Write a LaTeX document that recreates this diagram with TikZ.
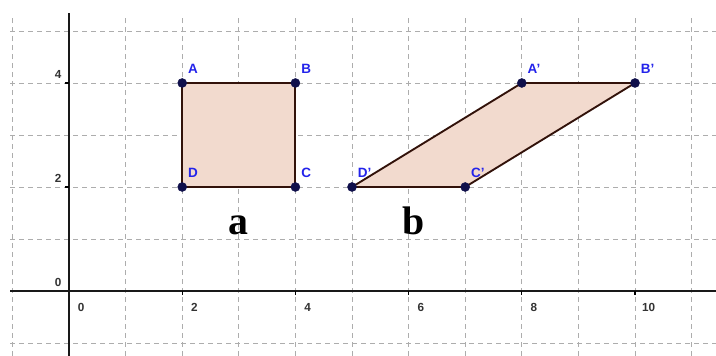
\documentclass[tikz,border=0pt]{standalone}
\usepackage{fontspec}
\setmainfont{Liberation Serif}
\setsansfont{Liberation Sans}
\begin{document}
\begin{tikzpicture}[x=1.698cm,y=1.56cm,
  gridline/.style={draw=black!32, line width=0.8pt, dash pattern=on 0.15cm off 0.12cm},
  axisline/.style={draw=black!90, line width=1.6pt},
  tickmark/.style={draw=black, line width=1pt},
  axnum/.style={font=\sffamily\bfseries\fontsize{10}{11}\selectfont, text=black!80, inner sep=0pt},
  pt/.style={circle, fill=ptcol, draw=ptcol, minimum size=0.27cm, inner sep=0pt},
  ptlab/.style={font=\sffamily\bfseries\fontsize{11.5}{12}\selectfont, text=labcol, inner sep=0pt, anchor=south west},
  poly/.style={fill=polyfill, draw=edgecol, line width=1.6pt, line join=round},
  biglab/.style={font=\bfseries\fontsize{34}{36}\selectfont, inner sep=0pt, anchor=base}]
\definecolor{ptcol}{RGB}{15,15,75}
\definecolor{labcol}{RGB}{35,35,235}
\definecolor{polyfill}{RGB}{242,218,206}
\definecolor{edgecol}{RGB}{50,18,10}
\useasboundingbox (-1.219,-1.25) rectangle (11.431,5.596);
\fill[white] (-1.219,-1.25) rectangle (11.431,5.596);
% grid
\foreach \i in {-1,...,11} \draw[gridline] (\i,-1.25) -- (\i,5.31);
\foreach \j in {-1,...,5} \draw[gridline] (-1.04,\j) -- (11.431,\j);
% axes
\draw[axisline] (-1.04,0) -- (11.431,0);
\draw[axisline] (0,-1.25) -- (0,5.35);
% ticks
\foreach \i in {2,4,6,8,10} \draw[tickmark] (\i,0) -- (\i,-0.07);
\foreach \j in {2,4} \draw[tickmark] (0,\j) -- (-0.07,\j);
% axis numbers
\foreach \i in {0,2,4,6,8} \node[axnum] (xn\i) at (\i+0.215,-0.31) {\i};
\node[axnum] (xn10) at (10+0.24,-0.31) {10};
\foreach \j in {0,2,4} \node[axnum] (yn\j) at (-0.19,\j+0.165) {\j};
% points
\coordinate (A) at (2,4); \coordinate (B) at (4,4);
\coordinate (C) at (4,2); \coordinate (D) at (2,2);
\coordinate (A2) at (8,4); \coordinate (B2) at (10,4);
\coordinate (C2) at (7,2); \coordinate (D2) at (5,2);
% polygons
\draw[poly] (A) -- (B) -- (C) -- (D) -- cycle;
\draw[poly] (D2) -- (C2) -- (B2) -- (A2) -- cycle;
% point markers
\foreach \p in {A,B,C,D,A2,B2,C2,D2} \node[pt] (m\p) at (\p) {};
% labels
\node[ptlab] (lA) at ([shift={(0.1,0.175)}]A) {A};
\node[ptlab] (lB) at ([shift={(0.1,0.175)}]B) {B};
\node[ptlab] (lC) at ([shift={(0.1,0.175)}]C) {C};
\node[ptlab] (lD) at ([shift={(0.1,0.175)}]D) {D};
\node[ptlab] (lA2) at ([shift={(0.1,0.175)}]A2) {A'};
\node[ptlab] (lB2) at ([shift={(0.1,0.175)}]B2) {B'};
\node[ptlab] (lC2) at ([shift={(0.1,0.175)}]C2) {C'};
\node[ptlab] (lD2) at ([shift={(0.1,0.175)}]D2) {D'};
% big labels
\node[biglab] (la) at (3.0,1.08) {a};
\node[biglab] (lb) at (6.08,1.08) {b};
\end{tikzpicture}
\end{document}
